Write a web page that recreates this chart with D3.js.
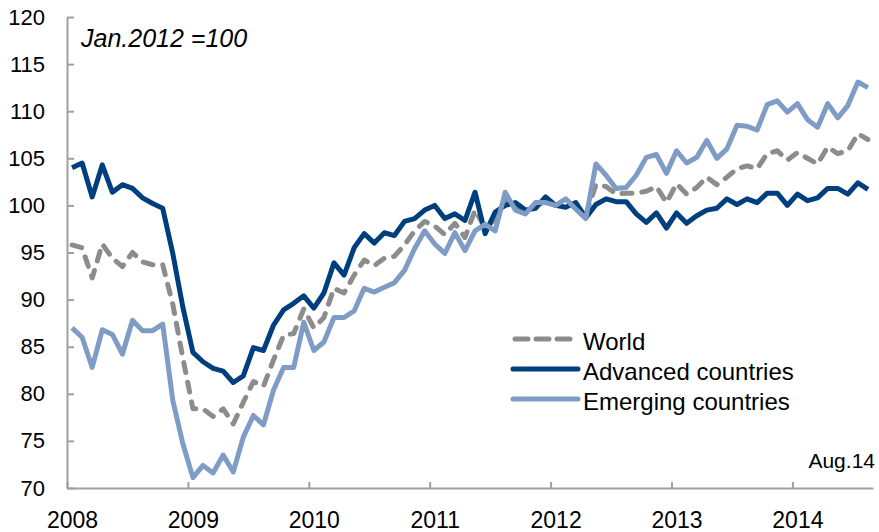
<!DOCTYPE html>
<html>
<head>
<meta charset="utf-8">
<script src="https://cdn.jsdelivr.net/npm/d3@7"></script>
<style>
  body { margin: 0; background: #fff; }
  svg text { font-family: "Liberation Sans", Arial, sans-serif; fill: #000; }
</style>
</head>
<body>
<svg id="chart" width="879" height="532"></svg>
<script>
// monthly index, Jan 2008 .. Aug 2014 (80 months)
const years = ["2008", "2009", "2010", "2011", "2012", "2013", "2014"];
const yTicks = [70, 75, 80, 85, 90, 95, 100, 105, 110, 115, 120];

const world = [
  95.8, 95.5, 92.3, 95.9, 94.4, 93.5, 95.0, 94.0, 93.7, 93.7,
  89.5, 83.8, 78.4, 78.4, 77.6, 78.4, 76.8, 79.1, 81.3, 80.8,
  83.6, 86.2, 86.4, 89.0, 87.0, 88.1, 91.2, 90.7, 92.6, 94.2,
  93.6, 94.4, 94.6, 95.8, 97.3, 98.3, 97.8, 96.9, 98.1, 96.6,
  99.5, 97.6, 98.5, 100.5, 99.9, 99.3, 100.0, 100.4, 100.0, 100.3,
  100.0, 99.0, 102.2, 102.0, 101.2, 101.3, 101.3, 101.5, 102.0, 100.3,
  102.3, 101.2, 101.9, 103.0, 102.2, 103.0, 103.9, 104.2, 103.9, 105.5,
  105.8, 104.8, 105.6, 105.0, 104.4, 106.2, 105.5, 105.8, 107.6, 107.0
];
const advanced = [
  104.0, 104.5, 100.9, 104.3, 101.4, 102.2, 101.8, 100.8, 100.2, 99.7,
  94.9, 89.2, 84.4, 83.4, 82.7, 82.4, 81.2, 81.9, 84.9, 84.6,
  87.3, 88.9, 89.6, 90.4, 89.1, 90.7, 93.9, 92.6, 95.5, 97.0,
  96.0, 97.1, 96.8, 98.3, 98.6, 99.5, 100.0, 98.6, 99.1, 98.4,
  101.4, 97.0, 99.3, 100.0, 100.3, 99.5, 99.7, 100.9, 100.0, 99.8,
  100.3, 98.7, 100.1, 100.7, 100.4, 100.4, 99.1, 98.2, 99.2, 97.6,
  99.2, 98.1, 98.9, 99.5, 99.7, 100.7, 100.1, 100.7, 100.3, 101.3,
  101.3, 100.0, 101.2, 100.5, 100.8, 101.8, 101.8, 101.2, 102.4, 101.7
];
const emerging = [
  87.0, 86.0, 82.8, 86.8, 86.3, 84.2, 87.8, 86.7, 86.7, 87.4,
  79.3, 74.7, 71.1, 72.4, 71.6, 73.5, 71.7, 75.4, 77.7, 76.7,
  80.4, 82.8, 82.8, 87.6, 84.6, 85.5, 88.1, 88.1, 88.8, 91.2,
  90.8, 91.3, 91.8, 93.1, 95.4, 97.3, 95.9, 94.9, 97.1, 95.2,
  97.3, 98.0, 97.3, 101.4, 99.5, 99.1, 100.3, 100.3, 100.0, 100.7,
  99.6, 98.6, 104.4, 103.2, 101.8, 101.9, 103.2, 105.1, 105.4, 103.4,
  105.8, 104.5, 105.1, 106.9, 105.0, 106.0, 108.5, 108.4, 108.0, 110.7,
  111.1, 109.9, 110.8, 109.1, 108.3, 110.8, 109.3, 110.6, 113.1, 112.5
];

const seriesNames = ["World", "Advanced countries", "Emerging countries"];
const seriesColors = ["#8c8c8c", "#003f7d", "#7f9cc6"];

const svg = d3.select("#chart");
const plotLeft = 67, plotRight = 873, plotTop = 17, plotBottom = 488;

const x = d3.scaleLinear().domain([0, world.length]).range([plotLeft, plotRight]);
const y = d3.scaleLinear().domain([70, 120]).range([plotBottom, plotTop]);

// y axis, ticks pointing into the plot
const yAxis = svg.append("g")
  .attr("transform", `translate(${plotLeft},0)`)
  .call(d3.axisLeft(y).tickValues(yTicks).tickSize(-7).tickSizeOuter(0).tickPadding(22));
yAxis.selectAll("text").style("font-size", "22px");

// x axis, a tick at the start of each year
const xAxis = svg.append("g")
  .attr("transform", `translate(0,${plotBottom})`)
  .call(d3.axisBottom(x).tickValues(years.map((d, i) => i * 12))
    .tickFormat((d, i) => years[i]).tickSize(-6).tickSizeOuter(0).tickPadding(24));
xAxis.selectAll("text").style("font-size", "23px").attr("dx", 5);

svg.selectAll(".domain, .tick line").attr("stroke", "#a0a0a0").attr("stroke-width", 2);

const line = d3.line()
  .x((d, i) => x(i + 0.5))
  .y(d => y(d));

const all = [world, advanced, emerging];
svg.append("g").selectAll("path")
  .data(all)
  .join("path")
  .attr("d", d => line(d))
  .attr("fill", "none")
  .attr("stroke", (d, i) => seriesColors[i])
  .attr("stroke-width", 5)
  .attr("stroke-linejoin", "round")
  .attr("stroke-linecap", (d, i) => i === 0 ? "round" : "butt")
  .attr("stroke-dasharray", (d, i) => i === 0 ? "10 10" : null);

// legend
const legend = svg.append("g").attr("transform", "translate(513,339)");
seriesNames.forEach((name, i) => {
  const row = legend.append("g").attr("transform", `translate(0,${i * 30})`);
  row.append("line")
    .attr("x1", i === 0 ? 2 : 0).attr("x2", 65)
    .attr("stroke", seriesColors[i])
    .attr("stroke-width", 5)
    .attr("stroke-linecap", "round")
    .attr("stroke-dasharray", i === 0 ? "13 8" : null);
  row.append("text")
    .attr("x", 70).attr("y", 11)
    .style("font-size", "24px")
    .text(name);
});

svg.append("text")
  .attr("x", 81).attr("y", 47)
  .style("font-size", "25px")
  .style("font-style", "italic")
  .text("Jan.2012 =100");

svg.append("text")
  .attr("x", 875).attr("y", 468)
  .attr("text-anchor", "end")
  .style("font-size", "21px")
  .text("Aug.14");
</script>
</body>
</html>
